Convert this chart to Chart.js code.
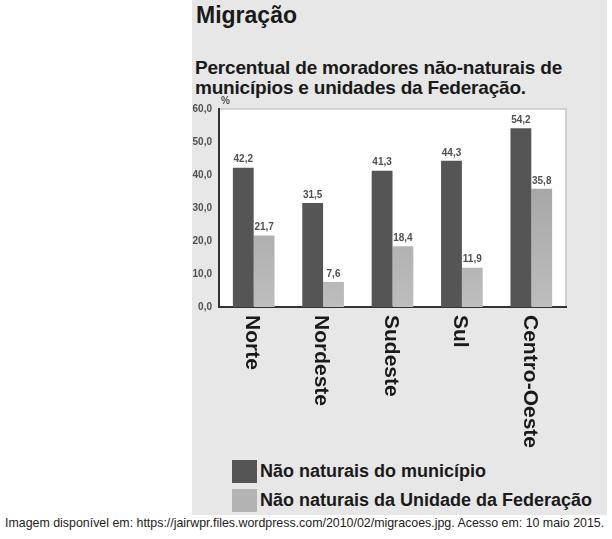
<!DOCTYPE html>
<html>
<head>
<meta charset="utf-8">
<script src="https://cdn.jsdelivr.net/npm/chart.js@4/dist/chart.umd.min.js"></script>
<style>
  body { margin: 0; background: #fff; font-family: "Liberation Sans", Arial, sans-serif; }
  #page { position: relative; width: 612px; height: 539px; overflow: hidden; }
  #panel { position: absolute; left: 192px; top: 0; width: 415px; height: 515px; background: #e7e7e7; }
  #title { position: absolute; left: 196px; top: 2px; font-size: 23px; font-weight: bold; color: #1a1a1a; }
  #subtitle { position: absolute; left: 195px; top: 58px; font-size: 19px; line-height: 20px; font-weight: bold; color: #1a1a1a; letter-spacing: -0.2px; }
  #chartBox { position: absolute; left: 170px; top: 95px; width: 440px; height: 360px; }
  .leg { position: absolute; left: 232px; font-size: 18px; font-weight: bold; color: #1a1a1a; }
  .leg span { position: absolute; left: 0; top: 0; width: 25px; height: 23px; }
  .leg div { position: absolute; left: 28px; top: 1px; white-space: nowrap; }
  #caption { position: absolute; left: 5px; top: 516px; font-size: 12.4px; color: #222; white-space: nowrap; }
</style>
</head>
<body>
<div id="page">
  <div id="panel"></div>
  <div id="title">Migração</div>
  <div id="subtitle">Percentual de moradores não-naturais de<br>municípios e unidades da Federação.</div>
  <div id="chartBox"><canvas id="chart"></canvas></div>
  <div class="leg" style="top:460px"><span style="background:#555555"></span><div>Não naturais do município</div></div>
  <div class="leg" style="top:489px"><span style="background:#b3b3b3"></span><div>Não naturais da Unidade da Federação</div></div>
  <div id="caption">Imagem disponível em: https://jairwpr.files.wordpress.com/2010/02/migracoes.jpg. Acesso em: 10 maio 2015.</div>
</div>
<script>
const regioes = ["Norte", "Nordeste", "Sudeste", "Sul", "Centro-Oeste"];
const naoNaturaisMunicipio = [42.2, 31.5, 41.3, 44.3, 54.2];
const naoNaturaisUF = [21.7, 7.6, 18.4, 11.9, 35.8];
const seriesNames = ["Não naturais do município", "Não naturais da Unidade da Federação"];

const fmt = (v) => v.toFixed(1).replace(".", ",");
const smallFont = "bold 10px 'Liberation Sans', Arial, sans-serif";

// fundo branco e borda clara do gráfico, rótulos, % e regiões
const decor = {
  id: "decor",
  beforeDraw(chart) {
    const { ctx, chartArea: a } = chart;
    ctx.save();
    ctx.fillStyle = "#ffffff";
    ctx.fillRect(a.left, a.top, a.right - a.left, a.bottom - a.top);
    ctx.strokeStyle = "#c8c8c8";
    ctx.lineWidth = 1.5;
    ctx.beginPath();
    ctx.moveTo(a.left, a.top);
    ctx.lineTo(a.right, a.top);
    ctx.lineTo(a.right, a.bottom);
    ctx.stroke();
    ctx.restore();
  },
  afterDraw(chart) {
    const { ctx, chartArea: a } = chart;
    ctx.save();
    ctx.fillStyle = "#505050";
    ctx.font = smallFont;
    ctx.textAlign = "left";
    ctx.textBaseline = "bottom";
    ctx.fillText("%", a.left + 2, a.top - 3);

    ctx.textAlign = "center";
    chart.data.datasets.forEach((ds, i) => {
      chart.getDatasetMeta(i).data.forEach((bar, j) => {
        ctx.fillText(fmt(ds.data[j]), bar.x, bar.y - 3);
      });
    });

    const xs = chart.scales.x;
    ctx.fillStyle = "#1a1a1a";
    ctx.font = "bold 21px 'Liberation Sans', Arial, sans-serif";
    ctx.textAlign = "left";
    ctx.textBaseline = "middle";
    regioes.forEach((r, i) => {
      ctx.save();
      ctx.translate(xs.getPixelForValue(i) - 2, a.bottom + 8);
      ctx.rotate(Math.PI / 2);
      ctx.fillText(r, 0, 0);
      ctx.restore();
    });
    ctx.restore();
  }
};

function lightFill(context) {
  const { ctx, chartArea } = context.chart;
  if (!chartArea) return "#aaaaaa";
  const g = ctx.createLinearGradient(0, chartArea.top, 0, chartArea.bottom);
  g.addColorStop(0, "#999999");
  g.addColorStop(1, "#bdbdbd");
  return g;
}

new Chart(document.getElementById("chart"), {
  type: "bar",
  data: {
    labels: regioes,
    datasets: [
      { label: seriesNames[0], data: naoNaturaisMunicipio, backgroundColor: "#555555" },
      { label: seriesNames[1], data: naoNaturaisUF, backgroundColor: lightFill }
    ]
  },
  options: {
    responsive: true,
    maintainAspectRatio: false,
    animation: false,
    categoryPercentage: 0.6,
    barPercentage: 1.0,
    layout: { padding: { left: 0, top: 14, right: 44, bottom: 148 } },
    plugins: { legend: { display: false }, tooltip: { enabled: false } },
    scales: {
      x: {
        grid: { display: false },
        border: { display: true, color: "#333", width: 2 },
        ticks: { display: false },
        afterFit(scale) { scale.height = 0; }
      },
      y: {
        min: 0,
        max: 60,
        grid: { display: false, drawTicks: false },
        border: { display: true, color: "#333", width: 2 },
        ticks: {
          stepSize: 10,
          padding: 7,
          color: "#505050",
          font: { size: 10, weight: "bold", family: "'Liberation Sans', Arial, sans-serif" },
          callback: (v) => fmt(v)
        },
        afterFit(scale) { scale.width = 49; }
      }
    }
  },
  plugins: [decor]
});
</script>
</body>
</html>
